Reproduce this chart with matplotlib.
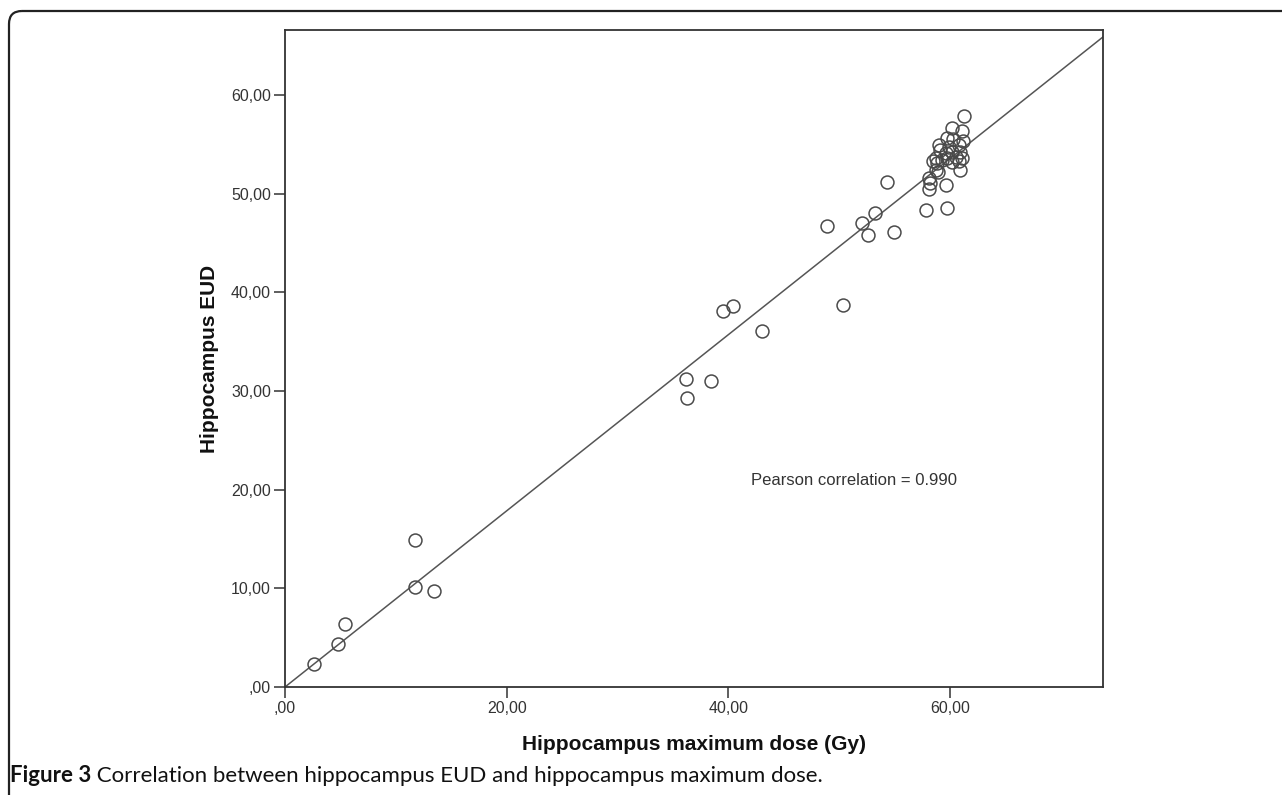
import numpy as np
import matplotlib
matplotlib.use("Agg")
import matplotlib.pyplot as plt
from matplotlib.patches import FancyBboxPatch

# ---- data ----
max_dose = [2.6, 4.8, 5.4, 11.7, 13.4, 11.7,
            36.2, 38.4, 36.3, 39.5, 40.4, 43.0, 50.3,
            48.9, 52.1, 53.2, 52.6, 54.9, 54.3, 57.8, 59.7,
            58.1, 58.2, 58.1, 59.6,
            61.3, 60.2, 61.1, 59.7, 61.2, 60.3, 59.0, 60.8, 59.9, 59.1,
            60.2, 59.6, 60.9, 58.7, 59.7, 60.5, 61.1, 58.5, 59.3, 60.2,
            58.8, 60.8, 58.7, 60.9, 58.9]
eud = [2.3, 4.4, 6.4, 10.1, 9.7, 14.9,
       31.2, 31.0, 29.3, 38.1, 38.6, 36.1, 38.7,
       46.7, 47.0, 48.0, 45.8, 46.1, 51.2, 48.4, 48.6,
       51.6, 51.1, 50.5, 50.9,
       57.9, 56.7, 56.4, 55.7, 55.3, 55.6, 54.9, 54.9, 54.7, 54.4,
       54.2, 54.1, 54.2, 53.6, 53.6, 53.7, 53.6, 53.3, 53.4, 53.2,
       53.1, 53.3, 52.4, 52.4, 52.2]

x_ticks = [0, 20, 40, 60]
x_tick_labels = [",00", "20,00", "40,00", "60,00"]
y_ticks = [0, 10, 20, 30, 40, 50, 60]
y_tick_labels = [",00", "10,00", "20,00", "30,00", "40,00", "50,00", "60,00"]
x_max, y_max = 73.8, 66.6

x_label = "Hippocampus maximum dose (Gy)"
y_label = "Hippocampus EUD"
annotation = "Pearson correlation = 0.990"
caption_bold = "Figure 3"
caption_text = " Correlation between hippocampus EUD and hippocampus maximum dose."

W, H = 1282, 795
fig = plt.figure(figsize=(W / 100, H / 100), dpi=100)

# outer rounded frame (cropped at right and bottom)
frame_ax = fig.add_axes([0, 0, 1, 1])
frame_ax.set_xlim(0, W)
frame_ax.set_ylim(H, 0)
frame_ax.axis("off")
frame_ax.add_patch(FancyBboxPatch((9, 11), W + 40, H + 40,
                                  boxstyle="round,pad=0,rounding_size=13",
                                  fill=False, edgecolor="#222222", linewidth=1.6))

# caption
t = frame_ax.text(10, 776, caption_bold, fontsize=16, fontweight="bold",
                  family="Lato", va="center", ha="left", color="#111111")
fig.canvas.draw()
bb = t.get_window_extent()
frame_ax.text(10 + bb.width, 776, caption_text, fontsize=16, family="Lato",
              va="center", ha="left", color="#111111")

left, right, top, bottom = 285, 1103, 30, 687
ax = fig.add_axes([left / W, 1 - bottom / H, (right - left) / W, (bottom - top) / H])

ax.plot(max_dose, eud, linestyle="none", marker="o", markersize=9.3,
        markerfacecolor="none", markeredgecolor="#4a4a4a", markeredgewidth=1.1,
        zorder=3)

# fit line through origin
xd = np.array(max_dose)
yd = np.array(eud)
slope = np.sum(xd * yd) / np.sum(xd * xd)
xl = np.array([0, x_max])
ax.plot(xl, slope * xl, color="#555555", linewidth=1.1, zorder=2, clip_on=True)

ax.set_xlim(0, x_max)
ax.set_ylim(0, y_max)
ax.set_xticks(x_ticks)
ax.set_xticklabels(x_tick_labels)
ax.set_yticks(y_ticks)
ax.set_yticklabels(y_tick_labels)
for lab in ax.get_xticklabels() + ax.get_yticklabels():
    lab.set_family("Liberation Sans")
    lab.set_fontsize(11.5)
    lab.set_color("#333333")
ax.tick_params(direction="out", length=8, width=1.1, color="#333333", pad=2)
for s in ax.spines.values():
    s.set_linewidth(1.3)
    s.set_color("#333333")

ax.set_xlabel(x_label, fontsize=15, fontweight="bold", family="Liberation Sans",
              color="#111111", labelpad=14)
ax.set_ylabel(y_label, fontsize=15, fontweight="bold", family="Liberation Sans",
              color="#111111", labelpad=9)

ax.text(42.0, 20.9, annotation, fontsize=12, family="Liberation Sans",
        color="#333333", va="center", ha="left")

fig.savefig("out.png", dpi=100)
